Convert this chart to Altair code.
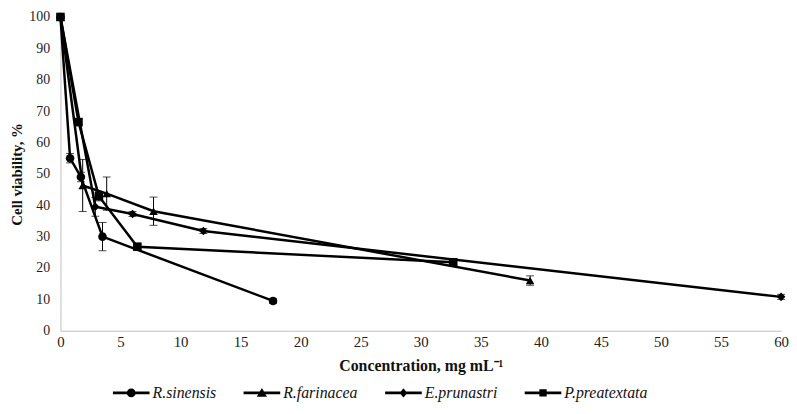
import altair as alt
import pandas as pd

series = ["R.sinensis", "R.farinacea", "E.prunastri", "P.preatextata"]

rs_x = [0, 0.8, 1.7, 3.5, 17.7]
rs_y = [100, 55, 49, 30, 9.5]
rs_err = [0, 1.5, 1.5, 4.5, 0.8]

rf_x = [0, 1.85, 3.85, 7.75, 39.1]
rf_y = [100, 46.3, 43.7, 38.1, 16]
rf_err = [0, 8.3, 5.3, 4.5, 1.5]

ep_x = [0, 2.9, 6.0, 11.9, 60]
ep_y = [100, 39.5, 37.2, 31.8, 10.8]
ep_err = [0, 3, 0.8, 0.8, 0.8]

pp_x = [0, 1.5, 3.2, 6.4, 32.7]
pp_y = [100, 66.5, 42.9, 26.8, 21.8]
pp_err = [0, 1, 1.5, 0.8, 0.8]

x_ticks = list(range(0, 61, 5))
y_ticks = list(range(0, 101, 10))

rows = []
for name, xs, ys, es in [
    (series[0], rs_x, rs_y, rs_err),
    (series[1], rf_x, rf_y, rf_err),
    (series[2], ep_x, ep_y, ep_err),
    (series[3], pp_x, pp_y, pp_err),
]:
    for i, (xv, yv, ev) in enumerate(zip(xs, ys, es)):
        rows.append({"series": name, "x": xv, "y": yv, "err": ev,
                     "lo": yv - ev, "hi": yv + ev, "order": i})
df = pd.DataFrame(rows)
err_df = df[df["err"] > 0]
legend_df = pd.DataFrame({"series": series, "x": [-20] * 4, "y": [50] * 4})

FONT = "Liberation Serif"

xaxis = alt.Axis(values=x_ticks, title="Concentration, mg mL\u207b\u00b9",
                 labelOverlap=False, labelFlush=False, labelPadding=4, titlePadding=8,
                 titleFontSize=16, labelFontSize=15)
yaxis = alt.Axis(values=y_ticks, tickCount=11, title="Cell viability, %",
                 labelOverlap=False, labelFlush=False, labelPadding=11, titlePadding=4,
                 titleFontSize=15, labelFontSize=14)
xscale = alt.Scale(domain=[0, 60], nice=False)
yscale = alt.Scale(domain=[0, 100], nice=False)


def X(f):
    return alt.X(f, scale=xscale, axis=xaxis)


def Y(f):
    return alt.Y(f, scale=yscale, axis=yaxis)


lines = alt.Chart(df).mark_line(color="black", strokeWidth=2.5).encode(
    x=X("x:Q"), y=Y("y:Q"), detail="series:N", order="order:Q")

rules = alt.Chart(err_df).mark_rule(color="black", strokeWidth=1).encode(
    x=X("x:Q"), y=Y("lo:Q"), y2="hi:Q")
cap_lo = alt.Chart(err_df).mark_tick(color="black", thickness=1, size=8,
                                     orient="horizontal").encode(x=X("x:Q"), y=Y("lo:Q"))
cap_hi = alt.Chart(err_df).mark_tick(color="black", thickness=1, size=8,
                                     orient="horizontal").encode(x=X("x:Q"), y=Y("hi:Q"))

points = alt.Chart(df).mark_point(filled=True, color="black", opacity=1, size=75).encode(
    x=X("x:Q"), y=Y("y:Q"),
    shape=alt.Shape("series:N",
                    scale=alt.Scale(domain=series,
                                    range=["circle", "triangle-up", "diamond", "square"]),
                    legend=None))

BAR = "M-1,-0.075H1V0.075H-1Z"
legend_paths = [
    BAR + "M0.24,0A0.24,0.24 0 1,1 -0.24,0A0.24,0.24 0 1,1 0.24,0Z",
    BAR + "M0,-0.27L0.28,0.21L-0.28,0.21Z",
    BAR + "M0,-0.25L0.21,0L0,0.25L-0.21,0Z",
    BAR + "M-0.2,-0.2H0.2V0.2H-0.2Z",
]

legend_layer = alt.Chart(legend_df).mark_point(
    filled=True, color="black", opacity=1, size=1369, clip=True
).encode(
    x=X("x:Q"), y=Y("y:Q"),
    shape=alt.Shape("series:N",
                    scale=alt.Scale(domain=series, range=legend_paths),
                    legend=alt.Legend(title=None, orient="none", direction="horizontal",
                                      legendX=52, legendY=360,
                                      symbolSize=1369, symbolFillColor="black",
                                      symbolOpacity=1,
                                      labelFont=FONT, labelFontSize=16,
                                      labelFontStyle="italic", labelColor="#111",
                                      labelOffset=2, columnPadding=24)))

chart = alt.layer(lines, rules, cap_lo, cap_hi, points, legend_layer).resolve_scale(
    shape="independent"
).properties(
    width=728, height=317,
    autosize=alt.AutoSizeParams(type="none"),
    padding={"left": 53, "top": 7, "right": 8, "bottom": 80},
).configure_view(stroke=None).configure_axis(
    grid=False, ticks=False, domainColor="#bfbfbf",
    labelFont=FONT, labelColor="#222",
    titleFont=FONT, titleFontWeight="bold", titleColor="#111",
)

chart.save("out.html", embed_options={"renderer": "svg", "actions": False})
